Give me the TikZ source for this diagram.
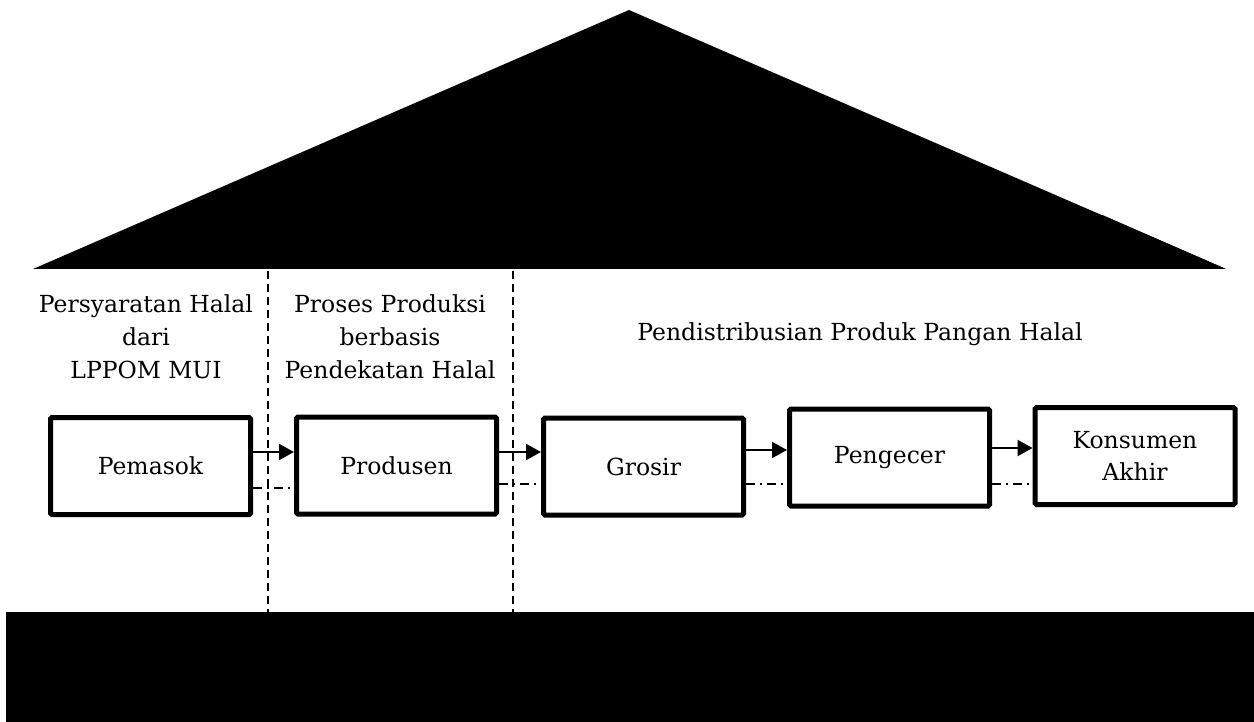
\documentclass[tikz,border=0pt]{standalone}
\usepackage{fontspec}
\setmainfont{DejaVu Serif}
\usetikzlibrary{arrows.meta}
\begin{document}
\begin{tikzpicture}[x=1pt,y=-1pt,
  box/.style={draw,line width=5pt,rounded corners=1.5pt,minimum width=200pt,minimum height=97pt,inner sep=0pt,align=center,font=\fontsize{23.5}{32}\selectfont},
  lbl/.style={align=center,font=\fontsize{23.5}{33}\selectfont},
  arr/.style={line width=2pt,-{Triangle[length=15pt,width=16pt]}},
  dd/.style={line width=1.4pt,dash pattern=on 9pt off 5pt on 2pt off 5pt},
  sep/.style={line width=1.7pt,dash pattern=on 8pt off 5pt}]
\useasboundingbox (0,0) rectangle (1254,722);
% roof
\fill (629,10) -- (1226,269) -- (33,269) -- cycle;
\fill[rounded corners=4pt] (600,269) -- (1226,269) -- (1100,214) -- cycle;
% base
\fill (6,612) rectangle (1254,722);
% separators
\coordinate (s1t) at (268,271); \coordinate (s1b) at (268,612);
\coordinate (s2t) at (513,271); \coordinate (s2b) at (513,612);
\draw[sep] (s1t) -- (s1b);
\draw[sep] (s2t) -- (s2b);
% labels
\node[lbl] (l1) at (146,337) {Persyaratan Halal\\dari\\LPPOM MUI};
\node[lbl] (l2) at (390,337) {Proses Produksi\\berbasis\\Pendekatan Halal};
\node[lbl] (l3) at (860,334) {Pendistribusian Produk Pangan Halal};
% boxes
\node[box] (pem) at (150.5,466) {Pemasok};
\node[box] (pro) at (396.5,465.5) {Produsen};
\node[box] (gro) at (643.5,466.5) {Grosir};
\node[box] (pen) at (889.5,457.5) {Pengecer};
\node[box] (kon) at (1135,456) {Konsumen\\Akhir};
% arrows
\coordinate (y1) at (0,452); \coordinate (y2) at (0,452); \coordinate (y3) at (0,450); \coordinate (y4) at (0,448);
\draw[arr] (pem.east |- y1) -- (pro.west |- y1);
\draw[arr] (pro.east |- y2) -- (gro.west |- y2);
\draw[arr] (gro.east |- y3) -- (pen.west |- y3);
\draw[arr] (pen.east |- y4) -- (kon.west |- y4);
% dash-dot
\coordinate (d1) at (0,488); \coordinate (d2) at (0,484); \coordinate (d3) at (0,484); \coordinate (d4) at (0,484);
\draw[dd] (pem.east |- d1) -- (pro.west |- d1);
\draw[dd] (pro.east |- d2) -- (gro.west |- d2);
\draw[dd] (gro.east |- d3) -- (pen.west |- d3);
\draw[dd] (pen.east |- d4) -- (kon.west |- d4);
\end{tikzpicture}
\end{document}
